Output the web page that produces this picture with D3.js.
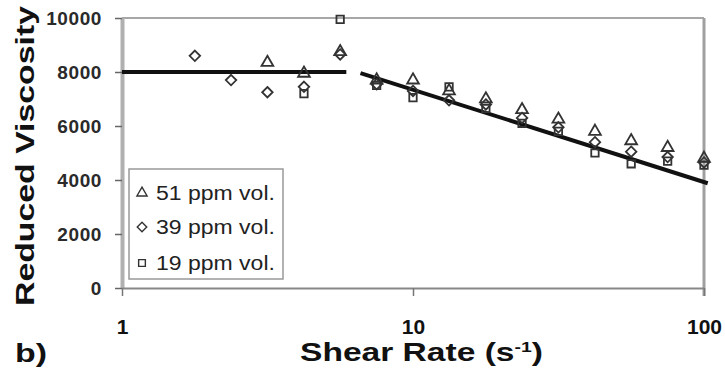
<!DOCTYPE html>
<html>
<head>
<meta charset="utf-8">
<script src="https://cdn.jsdelivr.net/npm/d3@7"></script>
<style>
  body { margin: 0; background: #fff; }
  text { font-family: "Liberation Sans", Arial, sans-serif; }
</style>
</head>
<body>
<svg id="chart" width="725" height="370"></svg>
<script>
// shear rates (s^-1) and reduced viscosity per concentration
const rates = [1.78, 2.37, 3.16, 4.22, 5.62, 7.5, 10, 13.3, 17.8, 23.7, 31.6, 42.2, 56.2, 75, 100];
const ppm51 = [null, null, 8350, 7950, 8750, 7700, 7700, 7300, 7000, 6600, 6250, 5800, 5450, 5200, 4800];
const ppm39 = [8600, 7700, 7250, 7450, 8650, 7550, 7300, 6950, 6800, 6300, 5950, 5400, 5050, 4850, 4650];
const ppm19 = [null, null, null, 7200, 9950, 7500, 7050, 7450, 6650, 6100, 5800, 5000, 4600, 4700, 4550];
const seriesNames = ["51 ppm vol.", "39 ppm vol.", "19 ppm vol."];

// fitted lines
const fitLowX = [1, 5.9];
const fitLowY = [8000, 8000];
const fitHighX = [6.6, 103];
const fitHighY = [7960, 3880];

const yTicks = [0, 2000, 4000, 6000, 8000, 10000];
const xTicks = [1, 10, 100];

const svg = d3.select("#chart");

const x = d3.scaleLog().domain([1, 100]).range([122, 704]);
const y = d3.scaleLinear().domain([0, 10000]).range([288, 18]);

// squeeze / stretch a text to a given width
function fitWidth(sel, w) {
  const bw = sel.node().getComputedTextLength();
  const x0 = +sel.attr("x");
  const k = w / bw;
  sel.attr("transform", `translate(${x0},0) scale(${k},1) translate(${-x0},0)`);
}

// diamond = square turned 45 degrees
const diamond = {
  draw(ctx, size) {
    const r = Math.sqrt(size / 2);
    ctx.moveTo(0, -r); ctx.lineTo(r, 0); ctx.lineTo(0, r); ctx.lineTo(-r, 0); ctx.closePath();
  }
};

// top line at 10000 and right border
svg.append("line")
  .attr("x1", x(1)).attr("x2", x(100))
  .attr("y1", y(10000)).attr("y2", y(10000))
  .attr("stroke", "#8a8a8a").attr("stroke-width", 1.5);
svg.append("line")
  .attr("x1", x(100)).attr("x2", x(100))
  .attr("y1", y(10000)).attr("y2", y(0) + 8)
  .attr("stroke", "#a0a0a0").attr("stroke-width", 3);

// axes
const yAxis = svg.append("g")
  .attr("transform", `translate(${x(1)},0)`)
  .call(d3.axisLeft(y).tickValues(yTicks).tickSize(7).tickPadding(13).tickSizeOuter(0).tickFormat(d3.format("d")));
yAxis.select(".domain").attr("stroke", "#b0b0b0").attr("stroke-width", 4);
yAxis.selectAll(".tick line").attr("stroke", "#666").attr("stroke-width", 1.5);
yAxis.selectAll(".tick text")
  .attr("fill", "#2a2a2a")
  .style("font-size", "19px").style("font-weight", "bold")
  .style("letter-spacing", "0.6px");

const xAxis = svg.append("g")
  .attr("transform", `translate(0,${y(0)})`)
  .call(d3.axisBottom(x).tickValues(xTicks).tickSize(8).tickPadding(23).tickSizeOuter(0).tickFormat(d3.format("d")));
xAxis.select(".domain").attr("stroke", "#888").attr("stroke-width", 2);
xAxis.selectAll(".tick line").attr("stroke", "#777").attr("stroke-width", 1.5);
xAxis.selectAll(".tick text")
  .attr("fill", "#111")
  .style("font-size", "21px").style("font-weight", "bold");

// fit lines
const line = d3.line().x(d => x(d[0])).y(d => y(d[1]));
svg.append("path")
  .datum(d3.zip(fitLowX, fitLowY))
  .attr("d", line).attr("fill", "none")
  .attr("stroke", "#111").attr("stroke-width", 4);
svg.append("path")
  .datum(d3.zip(fitHighX, fitHighY))
  .attr("d", line).attr("fill", "none")
  .attr("stroke", "#111").attr("stroke-width", 4);

// markers
const shapes = [d3.symbolTriangle, diamond, d3.symbolSquare];
const sizes = [60, 55, 55];
const allSeries = [ppm51, ppm39, ppm19];

allSeries.forEach((vals, i) => {
  const pts = rates.map((r, j) => [r, vals[j]]).filter(d => d[1] != null);
  svg.append("g").selectAll("path")
    .data(pts)
    .join("path")
    .attr("transform", d => `translate(${x(d[0])},${y(d[1])})`)
    .attr("d", d3.symbol().type(shapes[i]).size(sizes[i]))
    .attr("fill", "none")
    .attr("stroke", "#333")
    .attr("stroke-width", 1.8);
});

// legend
const lg = svg.append("g");
lg.append("rect")
  .attr("x", 129).attr("y", 169).attr("width", 154).attr("height", 110)
  .attr("fill", "#fff").attr("stroke", "#999").attr("stroke-width", 1.5);
const legY = [193, 227, 263];
seriesNames.forEach((name, i) => {
  lg.append("path")
    .attr("transform", `translate(142,${legY[i]})`)
    .attr("d", d3.symbol().type(shapes[i]).size(45))
    .attr("fill", "none").attr("stroke", "#333").attr("stroke-width", 1.4);
  const t = lg.append("text")
    .attr("x", 156).attr("y", legY[i] + 7)
    .attr("fill", "#222")
    .style("font-size", "20px")
    .text(name);
  fitWidth(t, 119);
});

// titles
svg.append("text")
  .attr("transform", "translate(34,156) rotate(-90)")
  .attr("text-anchor", "middle")
  .attr("textLength", 300).attr("lengthAdjust", "spacingAndGlyphs")
  .style("font-size", "26px").style("font-weight", "bold")
  .attr("fill", "#111")
  .text("Reduced Viscosity");

const xt = svg.append("text")
  .attr("x", 300).attr("y", 361)
  .style("font-size", "26px").style("font-weight", "bold")
  .attr("fill", "#111");
xt.append("tspan").text("Shear Rate (s");
xt.append("tspan").attr("dy", -9).style("font-size", "15px").text("-1");
xt.append("tspan").attr("dy", 9).text(")");
fitWidth(xt, 243);

const bl = svg.append("text")
  .attr("x", 15).attr("y", 362)
  .style("font-size", "26px").style("font-weight", "bold")
  .attr("fill", "#111")
  .text("b)");
fitWidth(bl, 32);
</script>
</body>
</html>
